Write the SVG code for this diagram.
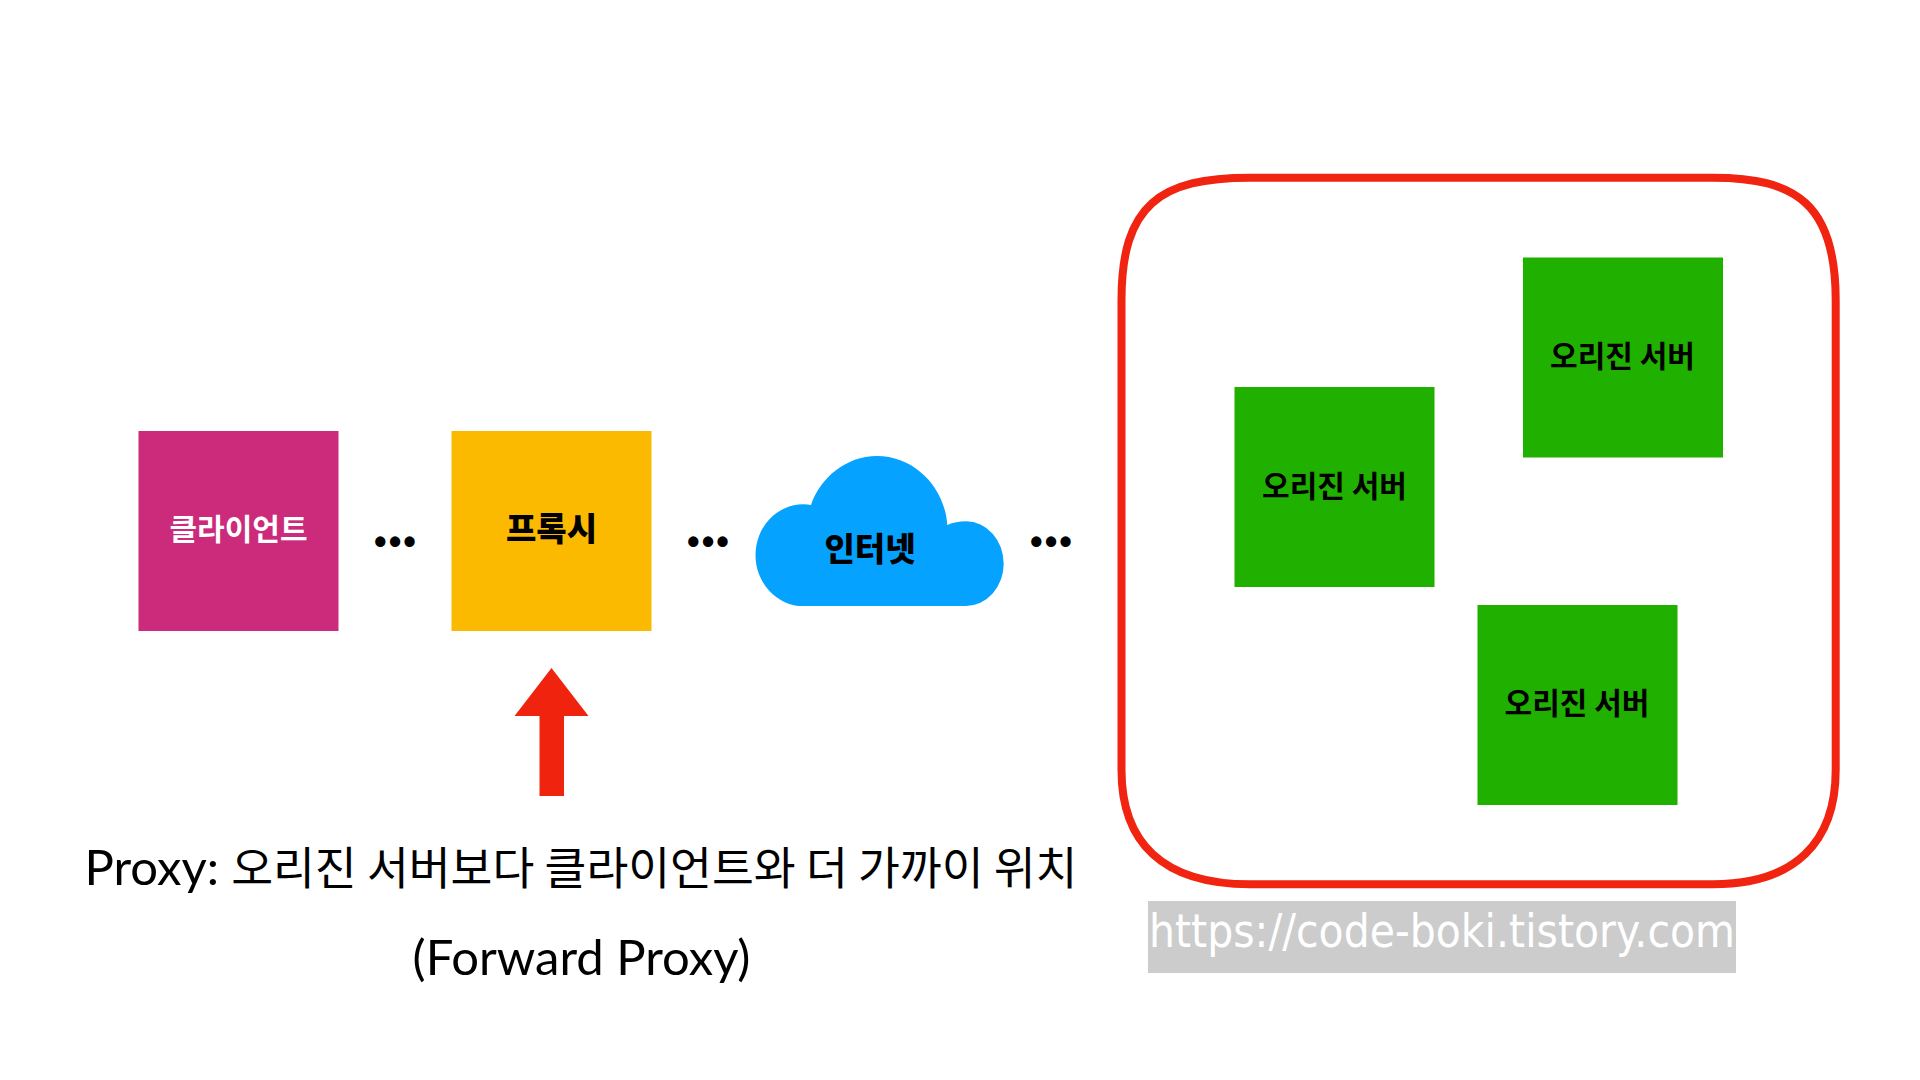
<svg xmlns="http://www.w3.org/2000/svg" width="1920" height="1080" viewBox="0 0 1920 1080">
<style>
text{font-family:"Noto Sans CJK KR","Noto Sans",sans-serif;text-anchor:middle;fill:#000}
.box{font-size:30px;font-weight:700}
.bold{font-size:33px;font-weight:900}
.dots{font-family:"Liberation Sans",sans-serif;font-size:36px;font-weight:700;letter-spacing:2px}
.cap{font-family:Lato,"Noto Sans CJK KR",sans-serif;font-size:49px}
.ko{font-family:"Noto Sans CJK KR",sans-serif;font-size:45.500px}
.server{fill:#1FB000}
</style>
<rect width="1920" height="1080" fill="#fff"/>
<g id="origin-group"><path d="M1250 177.700H1713C1797 177.700 1835.700 205 1835.700 300V770C1835.700 842 1795 884.300 1713 884.300H1250C1162 884.300 1121.500 842 1121.500 770V300C1121.500 205 1160 177.700 1250 177.700Z" fill="none" stroke="#F02410" stroke-width="8"/></g>
<g id="client"><rect x="138.500" y="431" width="200" height="200" fill="#CC2A7A"/><text class="box" x="238.500" y="540" style="fill:#fff">클라이언트</text></g>
<g id="proxy"><rect x="451.500" y="431" width="200" height="200" fill="#FBB900"/><text class="bold" x="551.500" y="541">프록시</text></g>
<g id="internet"><path d="M803 606A47.500 50.850 0 0 1 803 504.300Q808 504.300 811 505C820 478 846 456 877 456C915 456 945 488 947.300 525Q956 521.300 966 521.300A37.700 42.350 0 0 1 966 606Z" fill="#05A2FF"/><text class="bold" x="870" y="561">인터넷</text></g>
<g id="origin-1"><rect class="server" x="1234.500" y="387" width="200" height="200"/><text class="box" x="1334.500" y="496.500">오리진 서버</text></g>
<g id="origin-2"><rect class="server" x="1523" y="257.500" width="200" height="200"/><text class="box" x="1622.500" y="367">오리진 서버</text></g>
<g id="origin-3"><rect class="server" x="1477.500" y="605" width="200" height="200"/><text class="box" x="1577" y="714">오리진 서버</text></g>
<g id="connectors">
<text class="dots" x="396" y="554">•••</text>
<text class="dots" x="709" y="554">•••</text>
<text class="dots" x="1052" y="554">•••</text>
<path d="M551.500 668L588.500 716H564V796H539.500V716H514.500Z" fill="#F0240E"/>
</g>
<g id="caption">
<text class="cap" x="581" y="884.500"><tspan>Proxy:</tspan><tspan class="ko" dx="2"> 오리진 서버보다 클라이언트와 더 가까이 위치</tspan></text>
<text class="cap" x="581.500" y="975">(Forward Proxy)</text>
</g>
<g id="watermark"><rect x="1148" y="901" width="588" height="72" fill="#CCCCCC"/><text x="1442" y="947" style="font-family:'DejaVu Sans',sans-serif;font-size:46px;fill:#fff" textLength="586" lengthAdjust="spacingAndGlyphs">https://code-boki.tistory.com</text></g>
</svg>
